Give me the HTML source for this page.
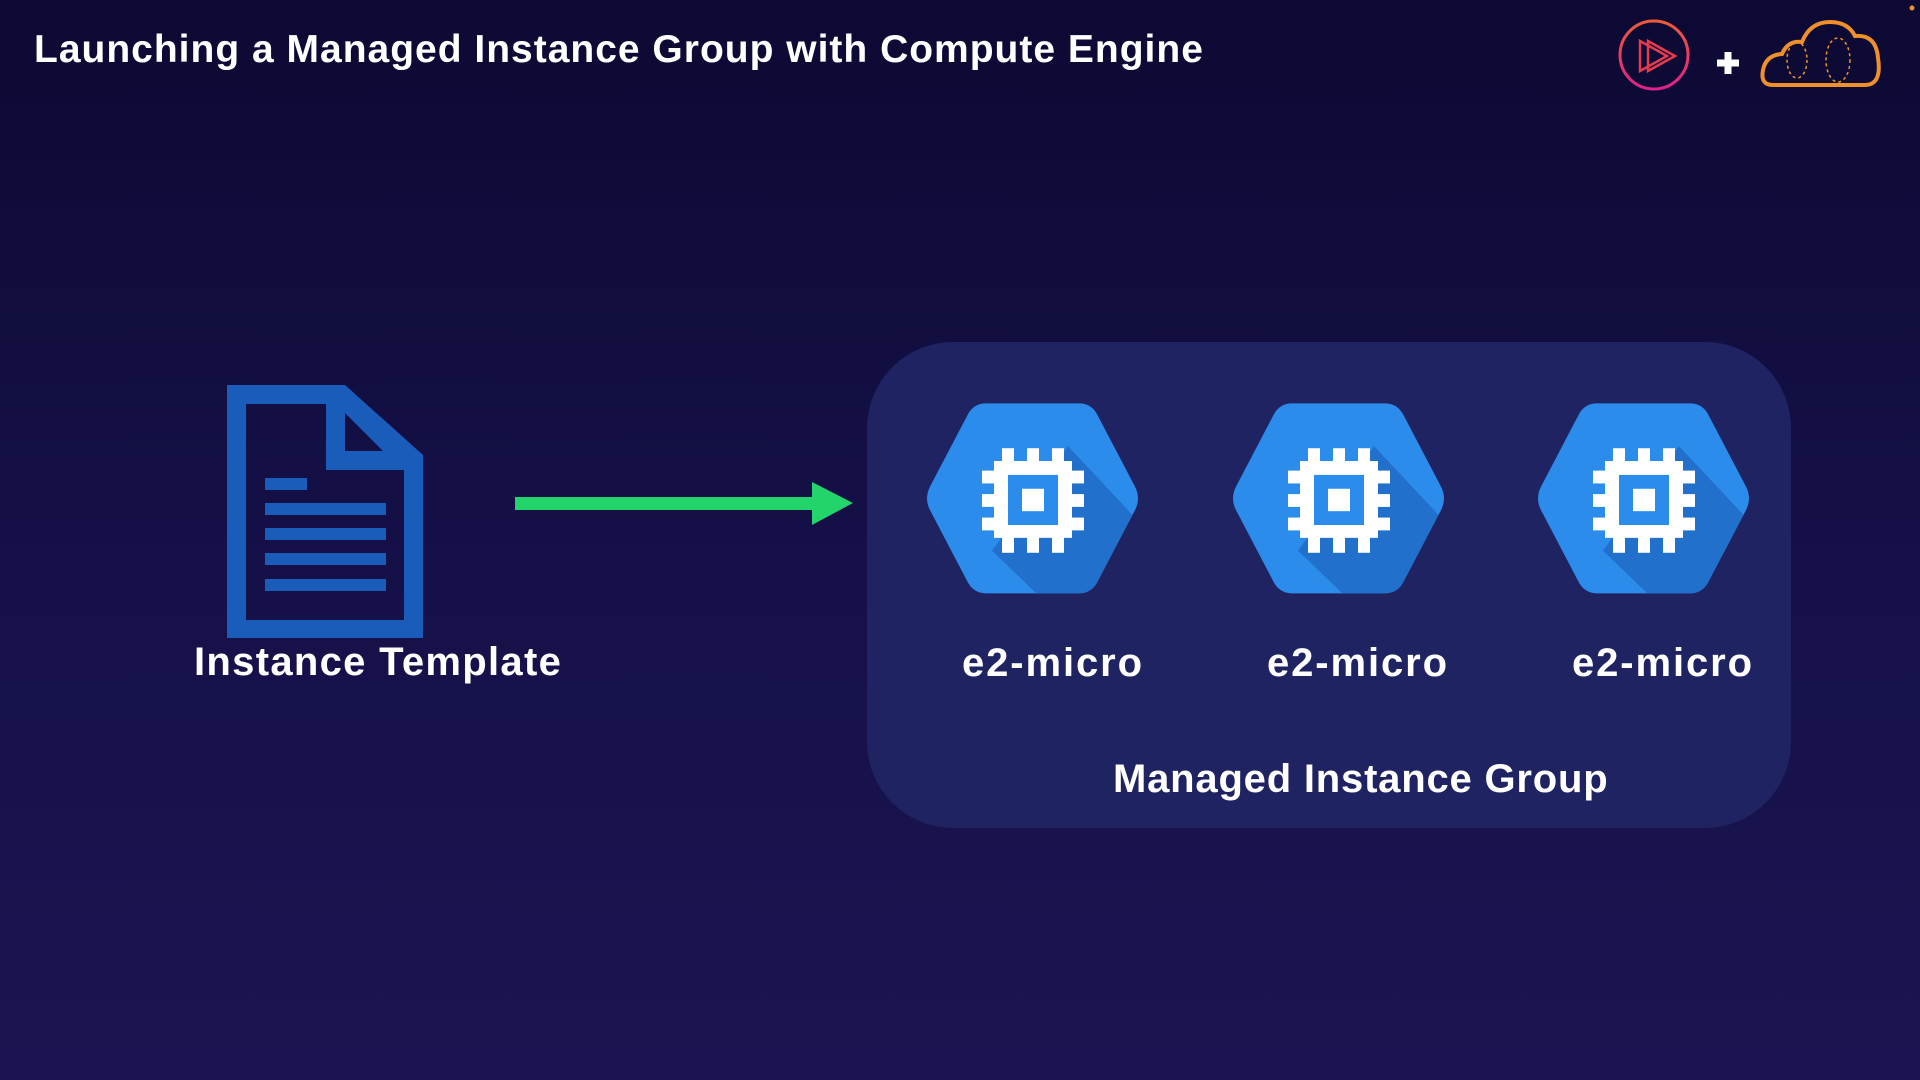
<!DOCTYPE html>
<html><head><meta charset="utf-8"><style>
html,body{margin:0;padding:0}
body{width:1920px;height:1080px;overflow:hidden;background:linear-gradient(180deg,#0c0933 0%,#141046 45%,#1b1452 100%);font-family:"Liberation Sans",sans-serif;position:relative}
.t{position:absolute;color:#fff;font-weight:bold;white-space:nowrap}
</style></head><body>
<div class="t" style="left:34px;top:28px;font-size:39px;letter-spacing:1.0px;">Launching a Managed Instance Group with Compute Engine</div>
<svg width="1920" height="1080" style="position:absolute;left:0;top:0">
<defs>
<linearGradient id="ps" x1="0" y1="0" x2="0" y2="1"><stop offset="0" stop-color="#f05a3a"/><stop offset="1" stop-color="#e0208a"/></linearGradient>
<clipPath id="hc"><path d="M62,6 L155,6 Q167,6 173,16 L211,84 Q217,95 211,106 L173,174 Q167,184 155,184 L62,184 Q50,184 44,174 L6,106 Q0,95 6,84 L44,16 Q50,6 62,6 Z"/></clipPath>
<g id="hex">
<path d="M62,6 L155,6 Q167,6 173,16 L211,84 Q217,95 211,106 L173,174 Q167,184 155,184 L62,184 Q50,184 44,174 L6,106 Q0,95 6,84 L44,16 Q50,6 62,6 Z" fill="#2b8ceb"/>
<path clip-path="url(#hc)" d="M144,46 L232,134 L232,200 L130,200 L68,144 Z" fill="#2170cc"/>
<g fill="#fff">
<rect x="70" y="60" width="78" height="72"/>
<rect x="58" y="69" width="102" height="12"/><rect x="58" y="91" width="102" height="12"/><rect x="58" y="113" width="102" height="12"/>
<rect x="78" y="48" width="12" height="98"/><rect x="103" y="48" width="12" height="98"/><rect x="128" y="48" width="12" height="98"/>
</g>
<rect x="84" y="73" width="50" height="47" fill="#2b8ceb"/>
<rect x="98" y="86" width="22" height="21" fill="#fff"/>
</g>
</defs>
<circle cx="1654" cy="55" r="34" fill="none" stroke="url(#ps)" stroke-width="3"/>
<path d="M1640,41 L1640,71 L1667,56 Z M1648,41 L1648,71 L1675,56 Z" fill="none" stroke="#e83a4e" stroke-width="2.5"/>
<path d="M1717,63 h22 M1728,52 v22" stroke="#fff" stroke-width="7"/>
<path d="M1773,85 Q1760,85 1763,70 Q1766,55 1782,54 Q1788,40 1802,42 Q1810,22 1830,22 Q1848,22 1855,36 Q1876,34 1878,58 Q1882,84 1866,85 Z" fill="none" stroke="#f0902a" stroke-width="4"/>
<ellipse cx="1797" cy="60" rx="10" ry="18" fill="none" stroke="#f0902a" stroke-width="1.5" stroke-dasharray="3 3"/>
<ellipse cx="1838" cy="60" rx="12" ry="22" fill="none" stroke="#f0902a" stroke-width="1.5" stroke-dasharray="3 3"/>
<circle cx="1912" cy="8" r="2.5" fill="#f0902a"/>
<path fill-rule="evenodd" fill="#1a5cba" d="M227,385 L345,385 L423,455 L423,638 L227,638 Z M246,404 L246,620 L404,620 L404,470 L326,470 L326,404 Z M345,413 L345,451 L383,451 Z"/>
<g fill="#1a5cba"><rect x="265" y="478" width="42" height="12"/><rect x="265" y="503" width="121" height="12"/><rect x="265" y="528" width="121" height="12"/><rect x="265" y="553" width="121" height="12"/><rect x="265" y="579" width="121" height="12"/></g>
<rect x="515" y="497" width="302" height="13" fill="#22d46a"/>
<path d="M812,482 L853,503 L812,525 Z" fill="#22d46a"/>
<rect x="867" y="342" width="924" height="486" rx="86" fill="#1f2362"/>
<use href="#hex" transform="translate(924,397) scale(1,1.067)"/>
<use href="#hex" transform="translate(1230,397) scale(1,1.067)"/>
<use href="#hex" transform="translate(1535,397) scale(1,1.067)"/>
</svg>
<div class="t" style="left:194px;top:640px;font-size:40px;letter-spacing:1.3px;">Instance Template</div>
<div class="t" style="left:962px;top:641px;font-size:40px;letter-spacing:1.9px;">e2-micro</div>
<div class="t" style="left:1267px;top:641px;font-size:40px;letter-spacing:1.9px;">e2-micro</div>
<div class="t" style="left:1572px;top:641px;font-size:40px;letter-spacing:1.9px;">e2-micro</div>
<div class="t" style="left:1113px;top:757px;font-size:40px;letter-spacing:0.8px;">Managed Instance Group</div>
</body></html>
